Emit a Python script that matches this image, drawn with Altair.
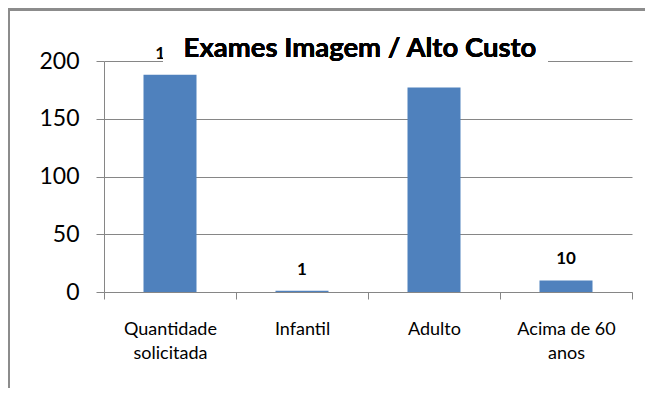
import altair as alt
import pandas as pd

categories = ["Quantidade solicitada", "Infantil", "Adulto", "Acima de 60 anos"]
values = [188, 1, 177, 10]
y_ticks = [0, 50, 100, 150, 200]
title_text = "Exames Imagem / Alto Custo"

df = pd.DataFrame({"cat": categories, "val": values})
FONT = "Lato"

x_enc = alt.X(
    "cat:N", sort=categories, title=None,
    scale=alt.Scale(paddingInner=0, paddingOuter=0),
    axis=alt.Axis(
        labelExpr="split(datum.label === 'Quantidade solicitada' ? 'Quantidade|solicitada' : datum.label === 'Acima de 60 anos' ? 'Acima de 60|anos' : datum.label, '|')",
        labelAngle=0, labelFont=FONT, labelFontSize=18, labelColor="#000000",
        labelPadding=21, labelLineHeight=24,
        tickBand="extent", tickSize=7, tickColor="#868686",
        domainColor="#868686", grid=False,
    ),
)
y_enc = alt.Y(
    "val:Q", title=None,
    scale=alt.Scale(domain=[0, 200], nice=False),
    axis=alt.Axis(
        values=y_ticks, labelFont=FONT, labelFontSize=23, labelColor="#000000",
        labelPadding=17, tickSize=8, tickColor="#868686", domainColor="#868686",
        gridColor="#868686", gridWidth=1,
    ),
)

bars = alt.Chart(df).mark_bar(color="#4F81BD", size=53).encode(x=x_enc, y=y_enc)

labels = alt.Chart(df).transform_filter(
    "datum.cat !== 'Adulto'"
).mark_text(
    font=FONT, fontSize=17, fontWeight="bold", baseline="alphabetic", dy=-16, color="#000000"
).encode(x=alt.X("cat:N", sort=categories), y="val:Q", text="val:Q")

cover = alt.Chart(df).mark_rect(color="white").encode(
    x=alt.value(59), x2=alt.value(444), y=alt.value(-30), y2=alt.value(13)
)

title = alt.Chart(df).mark_text(
    font=FONT, fontSize=27.5, fontWeight="bold", color="#000000", baseline="alphabetic", align="center"
).encode(x=alt.value(256), y=alt.value(-4), text=alt.value(title_text))

frame = alt.Chart(df).mark_rect(fill=None, stroke="#8c8c8c", strokeWidth=2.5).encode(
    x=alt.value(-95.5), x2=alt.value(620), y=alt.value(-51.5), y2=alt.value(400)
)

chart = alt.layer(bars, labels, cover, title, frame).properties(
    width=528, height=231,
    autosize=alt.AutoSizeParams(type="none"),
    padding={"left": 96, "top": 53, "right": 13, "bottom": 96},
).configure_view(stroke=None)

chart.save("out.html", embed_options={"renderer": "svg", "actions": False})
